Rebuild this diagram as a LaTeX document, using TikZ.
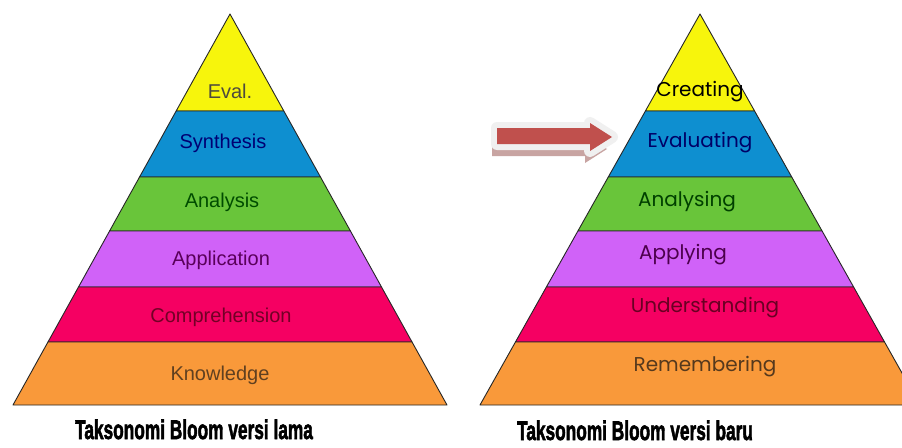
\documentclass[tikz,border=0pt]{standalone}
\usepackage{fontspec}
\setsansfont{Liberation Sans}
\newfontfamily\gothic{Poppins}
\newfontfamily\capfont[FakeBold=2.5]{Liberation Sans Bold}
\usepackage{graphicx}
\usepackage{xcolor}
\definecolor{bYellow}{HTML}{F7F50C}
\definecolor{bBlue}{HTML}{0E8FD0}
\definecolor{bGreen}{HTML}{69C53A}
\definecolor{bPurple}{HTML}{D062F8}
\definecolor{bPink}{HTML}{F50062}
\definecolor{bOrange}{HTML}{F9993A}
\definecolor{arrowred}{HTML}{C0504D}
\definecolor{shadowred}{HTML}{C8A4A2}

\begin{document}
\begin{tikzpicture}[x=1pt,y=-1pt,
    oldlab/.style={font=\sffamily\fontsize{20}{20}\selectfont},
    newlab/.style={font=\gothic\fontsize{20}{20}\selectfont},
    caption/.style={font=\capfont\fontsize{27}{27}\selectfont, anchor=base, inner sep=0pt}]
  % page frame
  \clip (0,0) rectangle (902,447);
  \fill[white] (0,0) rectangle (902,447);

  % the two pyramids: apex x / half base width
  \foreach \ax/\hw in {230/217, 700/220} {
    \pgfmathsetmacro{\sl}{\hw/391}
    \foreach \ya/\yb/\col in {14/111/bYellow, 111/177/bBlue, 177/231/bGreen,
                              231/287/bPurple, 287/342/bPink, 342/405/bOrange} {
      \filldraw[fill=\col, draw=black!85, line width=0.9pt, line join=round]
        ({\ax-\sl*(\ya-14)},\ya) -- ({\ax+\sl*(\ya-14)},\ya)
        -- ({\ax+\sl*(\yb-14)},\yb) -- ({\ax-\sl*(\yb-14)},\yb) -- cycle;
    }
  }

  % old taxonomy
  \node[oldlab, text=black!80!yellow]   (eval)  at (230,91)  {Eval.};
  \node[oldlab, text=blue!45!black]     (syn)   at (223,143) {Synthesis};
  \node[oldlab, text=green!30!black]    (ana)   at (222,202) {Analysis};
  \node[oldlab, text=violet!70!black]   (app)   at (221,260) {Application};
  \node[oldlab, text=purple!60!black]   (comp)  at (221,317) {Comprehension};
  \node[oldlab, text=brown!50!black]    (know)  at (220,375) {Knowledge};

  % new taxonomy
  \node[newlab, text=black]             (cre)   at (700,92)  {Creating};
  \node[newlab, text=blue!40!black]     (evl)   at (700,143) {Evaluating};
  \node[newlab, text=green!25!black]    (anl)   at (687,202) {Analysing};
  \node[newlab, text=violet!60!black]   (apl)   at (683,255) {Applying};
  \node[newlab, text=purple!55!black]   (und)   at (705,308) {Understanding};
  \node[newlab, text=brown!45!black]    (rem)   at (705,367) {Remembering};

  % captions
  \node[caption] (lama) at (194,439) {\scalebox{0.64}[1]{Taksonomi Bloom versi lama}};
  \node[caption] (baru) at (635,440) {\scalebox{0.64}[1]{Taksonomi Bloom versi baru}};

  % arrow pointing at Evaluating
  \def\arrowshape{(497,128) -- (590,128) -- (590,123) -- (612,137)
                  -- (590,151) -- (590,144) -- (497,144) -- cycle}
  \begin{scope}[shift={(-5,12)}]
    \fill[shadowred] \arrowshape;
  \end{scope}
  \filldraw[fill=black!6, draw=black!6, line width=12pt, line join=round] \arrowshape;
  \fill[arrowred] \arrowshape;
\end{tikzpicture}
\end{document}
